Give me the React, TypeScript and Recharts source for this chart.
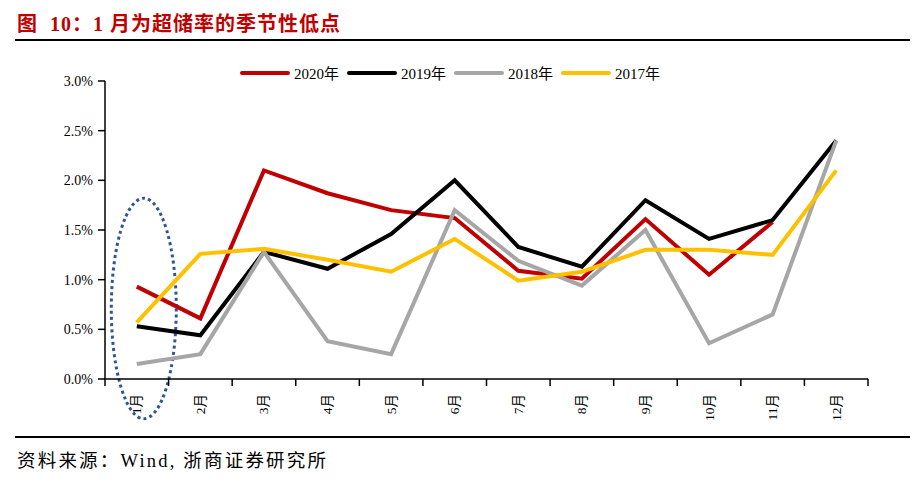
import { LineChart, Line, XAxis, YAxis, ReferenceArea } from 'recharts';

const months = ['1月', '2月', '3月', '4月', '5月', '6月', '7月', '8月', '9月', '10月', '11月', '12月'];
const y2020 = [0.93, 0.61, 2.1, 1.87, 1.7, 1.62, 1.09, 1.01, 1.61, 1.05, 1.58, null];
const y2019 = [0.53, 0.44, 1.28, 1.11, 1.46, 2.0, 1.33, 1.13, 1.8, 1.41, 1.6, 2.4];
const y2018 = [0.15, 0.25, 1.28, 0.38, 0.25, 1.7, 1.19, 0.94, 1.5, 0.36, 0.65, 2.4];
const y2017 = [0.57, 1.26, 1.31, 1.2, 1.08, 1.41, 0.99, 1.08, 1.3, 1.3, 1.25, 2.1];
const yTicks = [0, 0.5, 1, 1.5, 2, 2.5, 3];

const series = [
  { key: 'y2020', name: '2020年', color: '#C00000' },
  { key: 'y2019', name: '2019年', color: '#000000' },
  { key: 'y2018', name: '2018年', color: '#A6A6A6' },
  { key: 'y2017', name: '2017年', color: '#FFC000' },
];

const data = months.map((m, i) => ({
  month: m,
  y2020: y2020[i],
  y2019: y2019[i],
  y2018: y2018[i],
  y2017: y2017[i],
}));

const W = 924;
const H = 483;
const serif = '"Liberation Serif", "Noto Sans CJK SC", serif';

function XTick(props: any) {
  const { x, y, payload, index } = props;
  const half = payload && payload.offset ? payload.offset : 31.8;
  return (
    <g>
      <line x1={x - half} y1={y} x2={x - half} y2={y + 7} stroke="#000" strokeWidth={1.5} />
      {index === months.length - 1 && (
        <line x1={x + half} y1={y} x2={x + half} y2={y + 7} stroke="#000" strokeWidth={1.5} />
      )}
      <text
        x={0}
        y={0}
        transform={`translate(${x + 4.5},${y + 15}) rotate(-90)`}
        textAnchor="end"
        fontSize={13.5}
        fontFamily={serif}
        fill="#000"
      >
        {payload.value}
      </text>
    </g>
  );
}

function Ellipse(props: any) {
  const { x, y, width, height } = props;
  return (
    <ellipse
      cx={x + width / 2 + 7}
      cy={y + height / 2}
      rx={32.5}
      ry={height / 2}
      fill="none"
      stroke="#2F5597"
      strokeWidth={3}
      strokeDasharray="3 3.2"
    />
  );
}

export default function App() {
  return (
    <div
      style={{
        position: 'absolute',
        left: 0,
        top: 0,
        width: W,
        height: H,
        background: '#fff',
        fontFamily: serif,
      }}
    >
      <div
        style={{
          position: 'absolute',
          left: 17,
          top: 8,
          fontSize: 20,
          fontWeight: 700,
          color: '#C00000',
          whiteSpace: 'pre',
          letterSpacing: 1,
        }}
      >
        图  10：1 月为超储率的季节性低点
      </div>
      <div style={{ position: 'absolute', left: 15, top: 39, width: 895, height: 2, background: '#000' }} />

      <div
        style={{
          position: 'absolute',
          left: 240,
          top: 62,
          display: 'flex',
          alignItems: 'center',
          fontSize: 15,
          color: '#000',
        }}
      >
        {series.map((s) => (
          <div key={s.key} style={{ display: 'flex', alignItems: 'center', marginRight: 8 }}>
            <div style={{ width: 50, height: 4, borderRadius: 2, background: s.color, marginRight: 4 }} />
            <span>{s.name}</span>
          </div>
        ))}
      </div>

      <div style={{ position: 'absolute', left: 0, top: 0 }}>
        <LineChart
          width={W}
          height={H}
          data={data}
          margin={{ top: 81, right: 56, bottom: 64, left: 45 }}
        >
          <XAxis
            dataKey="month"
            scale="band"
            interval={0}
            tickLine={false}
            tickSize={0}
            tickMargin={0}
            axisLine={{ stroke: '#000', strokeWidth: 1.5 }}
            tick={<XTick />}
            height={40}
          />
          <YAxis
            domain={[0, 3]}
            ticks={yTicks}
            width={60}
            tickSize={7}
            tickMargin={5}
            tickLine={{ stroke: '#000', strokeWidth: 1.5 }}
            axisLine={{ stroke: '#000', strokeWidth: 1.5 }}
            tick={{ fontSize: 14, fill: '#000', fontFamily: serif }}
            tickFormatter={(v: number) => `${v.toFixed(1)}%`}
          />
          {series.map((s) => (
            <Line
              key={s.key}
              dataKey={s.key}
              name={s.name}
              stroke={s.color}
              strokeWidth={4}
              dot={false}
              activeDot={false}
              isAnimationActive={false}
            />
          ))}
          <ReferenceArea
            x1="1月"
            x2="1月"
            y1={-0.4}
            y2={1.82}
            ifOverflow="visible"
            shape={<Ellipse />}
          />
        </LineChart>
      </div>

      <div style={{ position: 'absolute', left: 15, top: 436, width: 895, height: 2, background: '#000' }} />
      <div
        style={{
          position: 'absolute',
          left: 17,
          top: 446,
          fontSize: 18.5,
          letterSpacing: 2.2,
          color: '#000',
          whiteSpace: 'pre',
        }}
      >
        资料来源：Wind, 浙商证券研究所
      </div>
    </div>
  );
}
